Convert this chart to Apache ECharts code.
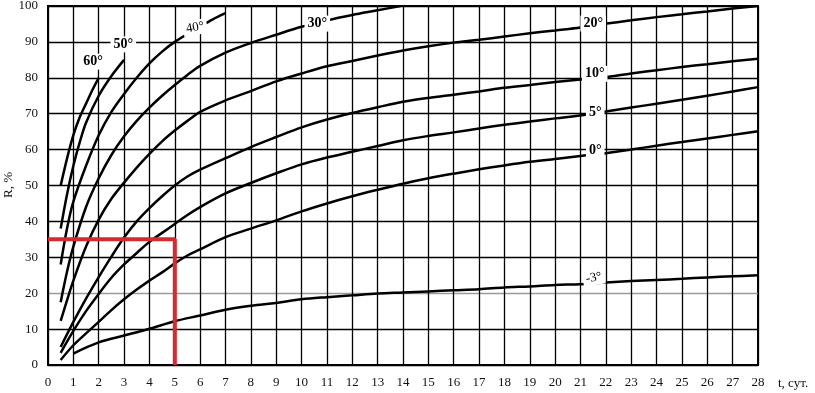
<!DOCTYPE html>
<html>
<head>
<meta charset="utf-8">
<script src="https://cdn.jsdelivr.net/npm/echarts@6/dist/echarts.min.js"></script>
<style>
html,body{margin:0;padding:0;background:#fff;}
#chart{width:815px;height:393px;}
</style>
</head>
<body>
<div id="chart"></div>
<script>
// Curves: [t (days), R (%)]
const c60 = [[0.5,50],[0.75,57.5],[1,64],[1.25,69],[1.5,72.8],[1.75,76.6],[2,80]];
const c50 = [[0.5,38],[0.75,47.5],[1,55.5],[1.25,62],[1.5,67.5],[2,75],[2.5,80.5],[3,85]];
const c40 = [[0.5,28],[0.75,38],[1,45.5],[1.5,55.5],[2,64],[2.5,70.5],[3,75.5],[3.5,80],[4,84],[4.5,87.3],[5,90],[5.5,92.2],[6,94.3],[6.5,96.3],[7,98]];
const c30 = [[0.5,17.5],[0.75,26],[1,33],[1.5,44],[2,52],[2.5,58.5],[3,63.7],[3.5,68],[4,71.7],[4.5,75],[5,78],[5.5,80.8],[6,83.3],[7,87],[8,89.7],[9,92],[10,94.2],[11,96],[12,97.5],[13,98.8],[13.9,100]];
const c20 = [[0.5,12.3],[0.75,18],[1,23.5],[1.5,33],[2,40.5],[2.5,46.3],[3,50.8],[3.5,55],[4,58.8],[4.5,62.3],[5,65.3],[5.5,68],[6,70.5],[7,73.7],[8,76.3],[9,79],[10,81.2],[11,83.2],[12,84.7],[13,86.2],[14,87.6],[15,88.8],[16,89.8],[17,90.6],[18,91.5],[19,92.4],[20,93.2],[21,94],[22,95.1],[23,96],[24,96.9],[25,97.7],[26,98.5],[27,99.3],[28,100]];
const c10 = [[0.5,5],[1,12],[1.5,18.5],[2,24.5],[2.5,30.2],[3,35.5],[3.5,40],[4,43.7],[4.5,47],[5,50],[5.5,52.5],[6,54.4],[7,57.6],[8,60.7],[9,63.5],[10,66.2],[11,68.4],[12,70.2],[13,71.8],[14,73.3],[15,74.4],[16,75.3],[17,76.2],[18,77.2],[19,78],[20,78.8],[21,79.5],[22,80.2],[23,81.2],[24,82.1],[25,83],[26,83.8],[27,84.6],[28,85.3]];
const c5 = [[0.5,3.4],[1,9.5],[1.5,15],[2,19.8],[2.5,24.3],[3,28],[3.5,31.2],[4,34.3],[4.5,36.8],[5,39.3],[5.5,41.8],[6,44],[7,47.8],[8,50.7],[9,53.4],[10,55.9],[11,57.8],[12,59.4],[13,61],[14,62.6],[15,63.8],[16,64.8],[17,65.9],[18,66.9],[19,67.8],[20,68.7],[21,69.5],[22,70.6],[23,71.7],[24,72.8],[25,73.9],[26,75],[27,76.2],[28,77.4]];
const c0 = [[0.5,1.4],[1,5.5],[1.5,8.8],[2,12],[2.5,15.3],[3,18.3],[3.5,21],[4,23.5],[4.5,25.8],[5,28.3],[5.5,30.5],[6,32.2],[7,35.6],[8,38],[9,40.3],[10,42.8],[11,45],[12,47],[13,48.8],[14,50.5],[15,52],[16,53.3],[17,54.5],[18,55.6],[19,56.6],[20,57.4],[21,58.2],[22,59],[23,60],[24,61.1],[25,62.1],[26,63.1],[27,64.1],[28,65.1]];
const cm3 = [[1,3.2],[2,6.3],[3,8.2],[4,10.1],[5,12.2],[6,13.8],[7,15.4],[8,16.5],[9,17.3],[10,18.3],[11,18.9],[12,19.4],[13,19.9],[14,20.2],[15,20.5],[16,20.8],[17,21.1],[18,21.6],[19,21.9],[20,22.3],[21,22.5],[22,23],[23,23.4],[24,23.7],[25,24],[26,24.4],[27,24.7],[28,25]];

// Curve labels: text and anchor position (t, R)
const labelTexts = ['60°','50°','40°','30°','20°','10°','5°','0°','-3°'];
const labelT = [1.78, 2.97, 5.8, 10.62, 21.5, 21.56, 21.58, 21.58, 21.52];
const labelR = [84.5, 89.3, 94.0, 95.1, 95.1, 81.1, 70.4, 59.7, 24.3];
const labelBold = [true, true, false, true, true, true, true, true, false];
const labelRot = [0, 0, 10, 0, 0, 0, 0, 0, 10];

// Red guide line: from R axis to curve, then down to t axis
const guide = [[0,35],[5,35],[5,0]];

const yGridColors = ['#000','#000','#9a9a9a','#000','#000','#000','#000','#000','#000','#000','#000'];

const curves = [c60, c50, c40, c30, c20, c10, c5, c0, cm3];
const FONT = 'Liberation Serif';

const chart = echarts.init(document.getElementById('chart'), null, {renderer:'canvas'});

const series = curves.map(d => ({
  type: 'line',
  data: d,
  showSymbol: false,
  smooth: 0.35,
  lineStyle: {color: '#000', width: 2.5},
  z: 3,
  silent: true
}));

series.push({
  type: 'line',
  data: guide,
  showSymbol: false,
  lineStyle: {color: '#d52a30', width: 4},
  z: 4,
  silent: true
});

series.push({
  type: 'scatter',
  symbolSize: 0,
  z: 6,
  silent: true,
  itemStyle: {color: '#000', opacity: 1},
  data: labelTexts.map((txt, i) => ({
    value: [labelT[i], labelR[i]],
    label: {
      show: true,
      position: [0, 0],
      align: 'center',
      verticalAlign: 'middle',
      rotate: labelRot[i],
      formatter: txt,
      fontFamily: FONT,
      fontSize: labelBold[i] ? 14 : 13,
      fontWeight: labelBold[i] ? 'bold' : 'normal',
      color: '#000',
      opacity: 1,
      textBorderWidth: 0,
      backgroundColor: '#fff',
      padding: [1, 3]
    }
  }))
});

chart.setOption({
  animation: false,
  backgroundColor: '#fff',
  grid: {left: 48, right: 57, top: 6, bottom: 28, outerBoundsMode: 'none', containLabel: false, show: true, borderColor: '#000', borderWidth: 2, backgroundColor: 'transparent'},
  graphic: [{
    type: 'text',
    x: 9, y: 185,
    rotation: Math.PI / 2,
    style: {text: 'R, %', fontFamily: FONT, fontSize: 13, fill: '#111', align: 'center', verticalAlign: 'middle'}
  }],
  xAxis: {
    type: 'value', min: 0, max: 28, interval: 1,
    name: 't, сут.', nameLocation: 'end', nameGap: 20,
    nameTextStyle: {fontFamily: FONT, fontSize: 13, color: '#111', verticalAlign: 'top', padding: [12,0,0,0]},
    axisLine: {show: true, onZero: false, lineStyle: {color: '#000', width: 2}},
    axisTick: {show: false},
    axisLabel: {fontFamily: FONT, fontSize: 13, color: '#111', margin: 11},
    splitLine: {show: true, showMinLine: true, showMaxLine: true, lineStyle: {color: '#000', width: 1.3}}
  },
  yAxis: {
    type: 'value', min: 0, max: 100, interval: 10,
    axisLine: {show: true, onZero: false, lineStyle: {color: '#000', width: 2}},
    axisTick: {show: false},
    axisLabel: {fontFamily: FONT, fontSize: 13, color: '#111', margin: 10},
    splitLine: {show: true, showMinLine: true, showMaxLine: true, lineStyle: {color: yGridColors, width: 1.3}}
  },
  series: series
});
</script>
</body>
</html>
